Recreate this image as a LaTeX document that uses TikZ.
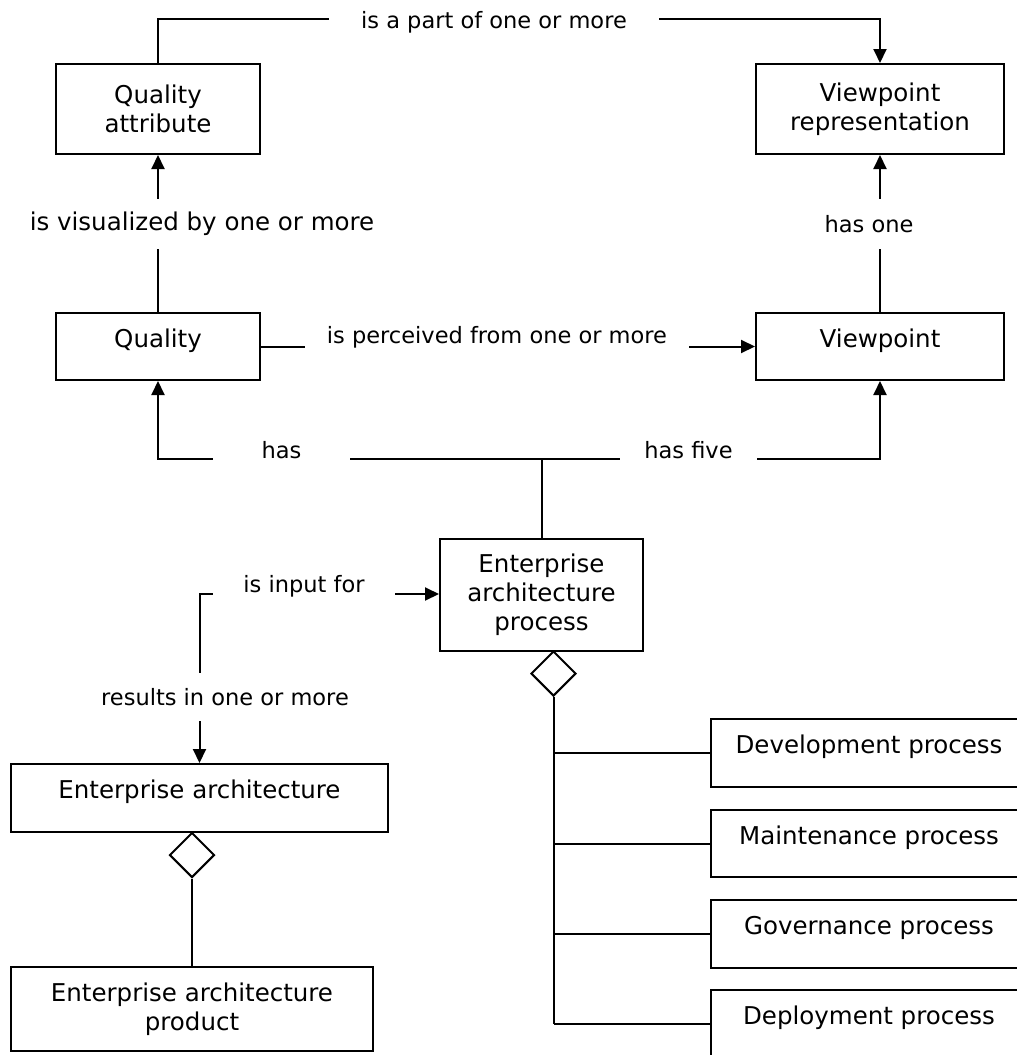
\documentclass[tikz,border=0pt]{standalone}
\usepackage{fontspec}
\setmainfont{DejaVu Sans}
\usetikzlibrary{arrows.meta,shapes.geometric}
\begin{document}
\begin{tikzpicture}[x=1pt,y=-1pt,
  box/.style={draw, line width=2pt, rectangle, inner sep=0pt, align=center,
    font=\fontsize{24.5}{29}\selectfont},
  btext/.style={inner sep=0pt, font=\fontsize{24.5}{29}\selectfont},
  lab/.style={fill=white, inner sep=0pt, align=center, font=\fontsize{22.5}{27}\selectfont},
  agg/.style={draw, line width=2pt, diamond, shape aspect=1, inner sep=0pt,
    minimum width=45pt, minimum height=45pt, fill=white},
  con/.style={line width=2pt},
  arr/.style={line width=2pt, -{Triangle[length=14pt,width=13pt]}},
  barr/.style={line width=2pt, {Triangle[length=14pt,width=13pt]}-{Triangle[length=14pt,width=13pt]}}
]
\useasboundingbox (0,0) rectangle (1017,1055);
\clip (0,0) rectangle (1017,1055);

% boxes
\node[box, minimum width=204pt, minimum height=90pt] (qa) at (158,109) {Quality\\attribute};
\node[box, minimum width=248pt, minimum height=90pt] (vr) at (880,109) {Viewpoint\\representation};
\node[box, minimum width=204pt, minimum height=67pt] (q) at (158,346.5) {};
\node[btext] at ([yshift=6pt]q.center) {Quality};
\node[box, minimum width=248pt, minimum height=67pt] (vp) at (880,346.5) {};
\node[btext] at ([yshift=6pt]vp.center) {Viewpoint};
\node[box, minimum width=203pt, minimum height=112pt] (eap) at (541.5,595) {Enterprise\\architecture\\process};
\node[box, minimum width=377pt, minimum height=68pt] (ea) at (199.5,798) {};
\node[btext] at ([yshift=6pt]ea.center) {Enterprise architecture};
\node[box, minimum width=362pt, minimum height=84pt] (eaprod) at (192,1009) {Enterprise architecture\\product};

\node[box, minimum width=316pt, minimum height=68pt] (dev) at (869,753) {};
\node[btext] at ([yshift=6pt]dev.center) {Development process};
\node[box, minimum width=316pt, minimum height=67pt] (mnt) at (869,843.5) {};
\node[btext] at ([yshift=6pt]mnt.center) {Maintenance process};
\node[box, minimum width=316pt, minimum height=68pt] (gov) at (869,934) {};
\node[btext] at ([yshift=6pt]gov.center) {Governance process};
\node[box, minimum width=316pt, minimum height=68pt] (dep) at (869,1024) {};
\node[btext] at ([yshift=6pt]dep.center) {Deployment process};

% aggregation diamonds
\node[agg] (d1) at (553.5,673.5) {};
\node[agg] (d2) at (192,855) {};

% helper coordinates
\coordinate (ytop) at (0,19);
\coordinate (yhas) at (0,459);
\coordinate (yin) at (0,594);

% connectors
\draw[arr] (qa.north) -- (qa.north |- ytop) -| (vr.north);
\draw[arr] (q.north) -- (qa.south);
\draw[arr] (vp.north) -- (vr.south);
\draw[arr] (q.east) -- (vp.west);
\draw[arr] (eap.north) -- (eap.north |- yhas) -| (q.south);
\draw[arr] (eap.north |- yhas) -| (vp.south);
\draw[barr] (eap.west |- yin) -| (ea.north);
\draw[con] (d2.south) -- (eaprod.north);
\draw[con] (d1.south) -- (d1.south |- dep.west);
\draw[con] (d1.south |- dev.west) -- (dev.west);
\draw[con] (d1.south |- mnt.west) -- (mnt.west);
\draw[con] (d1.south |- gov.west) -- (gov.west);
\draw[con] (d1.south |- dep.west) -- (dep.west);

% labels
\node[lab, minimum width=330pt, minimum height=30pt] (l1) at (494,22) {is a part of one or more};
\node[lab, minimum height=50pt, font=\fontsize{24.5}{29}\selectfont] (l2) at (202,224) {is visualized by one or more};
\node[lab, minimum height=50pt] (l3) at (869,224) {has one};
\node[lab, minimum width=384pt, minimum height=30pt] (l4) at (497,337) {is perceived from one or more};
\node[lab, minimum width=137pt, minimum height=30pt] (l5) at (281.5,450) {has};
\node[lab, minimum width=137pt, minimum height=30pt] (l6) at (688.5,450) {has five};
\node[lab, minimum width=182pt, minimum height=30pt] (l7) at (304,586) {is input for};
\node[lab, minimum height=48pt] (l8) at (225,697) {results in one or more};
\end{tikzpicture}
\end{document}
